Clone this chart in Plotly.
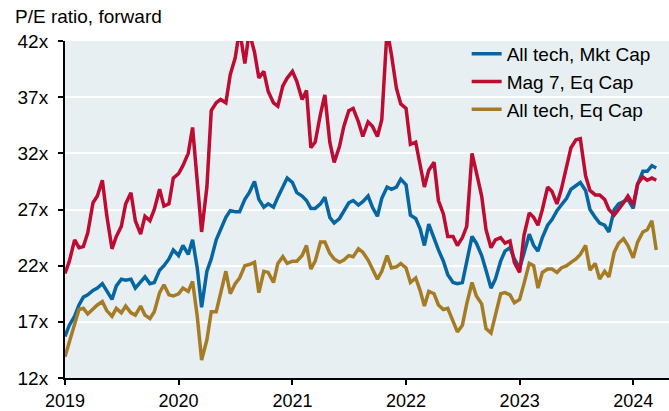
import plotly.graph_objects as go
import pandas as pd

# semi-monthly observations, Jan 2019 - mid Mar 2024
dates = pd.date_range("2019-01-01", "2024-03-15", freq="SMS")

all_tech_mkt = [
    15.7, 16.7, 17.5, 18.5, 19.2, 19.4, 19.8, 20.0, 20.4, 19.8, 19.0, 20.2, 20.8, 20.7, 20.8, 20.0, 20.6, 21.0, 20.4, 20.5, 21.6, 22.0, 22.6, 23.4, 22.9, 23.8,
    23.0, 24.3, 21.8, 18.3, 21.5, 22.6, 24.3, 25.2, 26.3, 26.9, 26.8, 26.8, 27.9, 28.5, 29.5, 27.9, 27.2, 27.5, 27.2, 28.1, 29.0, 29.8, 29.4, 28.5,
    28.2, 27.8, 27.1, 27.1, 27.5, 28.1, 26.3, 25.8, 26.2, 26.9, 27.6, 27.8, 27.4, 27.7, 28.2, 27.2, 26.4, 28.0, 29.0, 28.8, 29.0, 29.7, 29.2, 26.5, 26.2,
    25.3, 23.8, 25.7, 24.4, 23.4, 22.4, 21.2, 20.5, 20.4, 20.5, 22.5, 24.6, 24.0, 22.9, 21.6, 20.0, 20.8, 22.4, 23.3, 23.6, 22.6, 21.8, 23.1, 24.8,
    23.8, 23.3, 24.5, 25.6, 26.1, 26.9, 27.4, 28.0, 28.8, 29.1, 29.4, 28.7, 27.0, 26.3, 25.8, 25.6, 25.0, 27.0, 27.5, 27.7, 27.9, 27.1, 29.2, 30.4, 30.4, 30.9, 30.7,
]
mag7_eq = [
    21.3, 22.4, 24.3, 23.6, 23.7, 24.9, 27.6, 28.2, 29.6, 26.5, 23.5, 24.6, 25.5, 27.5, 28.5, 26.0, 24.8, 26.4, 26.0, 27.0, 28.8, 27.3, 27.5, 29.8, 30.2, 30.9,
    32.0, 34.3, 29.5, 25.0, 29.0, 35.8, 36.5, 36.8, 36.5, 39.0, 40.5, 43.0, 40.0, 42.8, 41.0, 38.7, 39.3, 37.5, 36.5, 36.2, 38.0, 38.7, 39.3, 38.4,
    36.8, 37.6, 32.5, 33.0, 35.5, 37.2, 33.0, 31.2, 32.6, 34.4, 35.8, 36.0, 34.8, 33.5, 34.8, 34.4, 33.5, 35.0, 43.0, 40.8, 37.8, 36.4, 36.0, 32.8, 33.0,
    30.8, 29.0, 30.5, 31.2, 27.8, 26.6, 24.6, 24.6, 23.8, 24.5, 25.5, 32.0, 30.3, 28.2, 25.2, 23.6, 24.3, 24.5, 24.0, 24.2, 22.3, 21.4, 24.7, 26.7,
    26.3, 25.6, 27.0, 29.0, 28.6, 27.5, 28.8, 30.8, 32.5, 33.2, 33.3, 30.0, 28.7, 28.3, 28.3, 27.9, 27.0, 26.5, 27.0, 27.6, 28.2, 27.4, 29.3, 29.9, 29.6, 29.8, 29.6,
]
all_tech_eq = [
    13.9, 15.1, 16.8, 18.1, 18.2, 17.7, 18.2, 18.5, 18.8, 18.0, 17.5, 18.2, 17.8, 18.4, 17.8, 17.6, 18.4, 17.6, 17.3, 17.9, 19.6, 20.3, 19.4, 19.3, 19.5, 20.0,
    19.7, 20.6, 17.5, 13.6, 15.4, 17.9, 17.9, 19.5, 21.5, 19.5, 20.4, 20.9, 22.0, 22.1, 22.3, 19.6, 21.5, 21.4, 20.5, 22.2, 22.8, 22.2, 22.4, 22.4,
    22.9, 23.8, 21.7, 22.4, 24.1, 24.1, 23.1, 22.6, 22.3, 22.5, 22.9, 22.8, 23.5, 23.2, 22.5, 21.7, 20.8, 21.5, 22.9, 21.8, 21.9, 22.2, 21.8, 20.5, 20.9,
    19.8, 18.4, 19.7, 19.5, 18.5, 18.1, 18.2, 17.0, 16.1, 16.7, 18.6, 20.5, 19.3, 18.6, 16.4, 16.0, 17.5, 19.5, 19.6, 19.4, 18.7, 19.0, 20.4, 22.2,
    22.0, 20.0, 21.4, 21.7, 21.7, 21.4, 21.8, 22.0, 22.3, 22.6, 23.0, 23.8, 21.6, 22.2, 20.8, 21.5, 21.0, 23.2, 24.0, 24.4, 23.8, 22.7, 24.1, 25.0, 25.2, 26.0, 23.4,
]

series = [
    ("All tech, Mkt Cap", all_tech_mkt, "#0566A1"),
    ("Mag 7, Eq Cap", mag7_eq, "#BE0B32"),
    ("All tech, Eq Cap", all_tech_eq, "#A57C25"),
]

fig = go.Figure()
for name, vals, col in series:
    fig.add_trace(go.Scatter(x=dates, y=vals, name=name, mode="lines",
                             line=dict(color=col, width=3.5)))

font = dict(family="Liberation Sans, Arial, sans-serif", size=19, color="#000000")

fig.update_layout(
    width=669, height=411,
    margin=dict(l=65, r=0, t=41, b=33, autoexpand=False),
    paper_bgcolor="white", plot_bgcolor="#E7EFF2",
    font=font,
    legend=dict(x=0.665, xanchor="left", y=1.018, yanchor="top", bgcolor="rgba(0,0,0,0)",
                font=font, tracegroupgap=0, itemwidth=30),
    showlegend=True,
)
fig.add_annotation(text="P/E ratio, forward", xref="paper", yref="paper",
                   x=-52 / 604, y=1 + 24 / 337, xanchor="left", yanchor="middle",
                   showarrow=False, font=font)
fig.update_xaxes(range=["2019-01-01", "2024-04-25"], dtick="M12", tick0="2019-01-01",
                 tickformat="%Y", showgrid=False, showline=True, linecolor="black",
                 linewidth=2, ticks="outside", ticklen=5, tickwidth=2, tickcolor="black",
                 tickfont=dict(size=18), zeroline=False)
fig.update_yaxes(range=[12, 42], tick0=12, dtick=5, ticksuffix="x", showgrid=True,
                 gridcolor="white", gridwidth=2, showline=True, linecolor="black",
                 linewidth=2, ticks="outside", ticklen=5, tickwidth=2, tickcolor="black",
                 ticklabelstandoff=6, zeroline=False)

# page body has a default margin; drop it so the figure sits at the window corner
fig.write_html("out.html", config={"displayModeBar": False},
               post_script="document.body.style.margin='0';")
